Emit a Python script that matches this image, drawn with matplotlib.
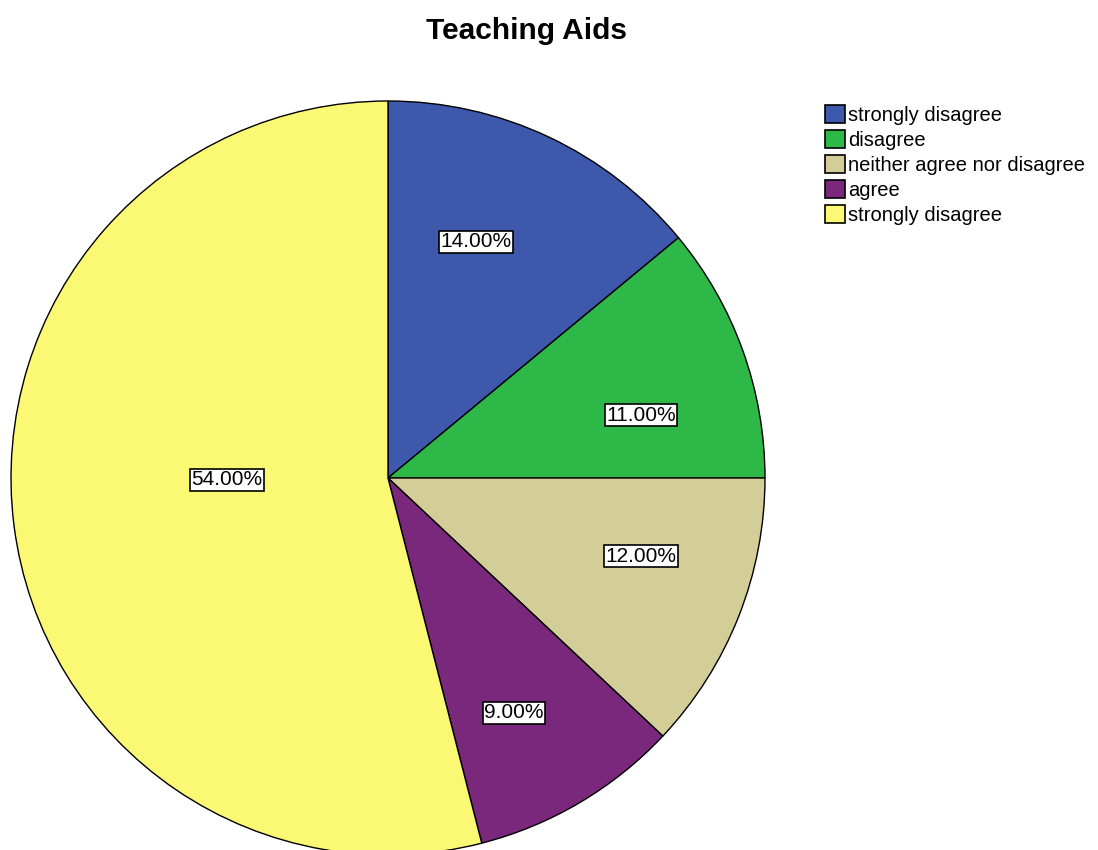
import matplotlib
matplotlib.use("Agg")
import matplotlib.pyplot as plt

categories = ["strongly disagree", "disagree", "neither agree nor disagree", "agree", "strongly disagree"]
percents = [14.0, 11.0, 12.0, 9.0, 54.0]
colors = ["#3e58ac", "#2eb848", "#d3ce97", "#79287c", "#fbf873"]

# label centres (in pie radius units), SPSS puts them a bit off the slice midpoints
label_xy = [(0.233, 0.626), (0.671, 0.167), (0.671, -0.207), (0.334, -0.623), (-0.427, -0.005)]

plt.rcParams["font.family"] = ["Liberation Sans", "DejaVu Sans"]

fig = plt.figure(figsize=(10.98, 8.5), dpi=100)
ax = fig.add_axes([11 / 1098, -5 / 850, 754 / 1098, 754 / 850])

wedges, texts, autotexts = ax.pie(
    percents, colors=colors, startangle=90, counterclock=False,
    autopct="%.2f%%", radius=1.0,
    wedgeprops=dict(edgecolor="black", linewidth=1.0),
    textprops=dict(fontsize=15, color="black"),
)
for t, (x, y) in zip(autotexts, label_xy):
    t.set_position((x, y))
    t.set_bbox(dict(facecolor="white", edgecolor="black", boxstyle="square,pad=0.06", linewidth=1.2))

ax.set_xlim(-1.0, 1.0)
ax.set_ylim(-1.0, 1.0)

fig.suptitle("Teaching Aids", x=526 / 1098, y=1 - 31 / 850, va="center",
             fontsize=21.5, fontweight="bold")

leg = fig.legend(wedges, categories, loc="upper left", bbox_to_anchor=(825 / 1098, 1 - 105 / 850),
                 frameon=False, fontsize=14.5, handlelength=1.0, handleheight=1.0,
                 handletextpad=0.15, labelspacing=0.25, borderpad=0, borderaxespad=0)
for h in leg.legend_handles:
    h.set_linewidth(1.2)

fig.savefig("out.png", dpi=100)
plt.close(fig)
